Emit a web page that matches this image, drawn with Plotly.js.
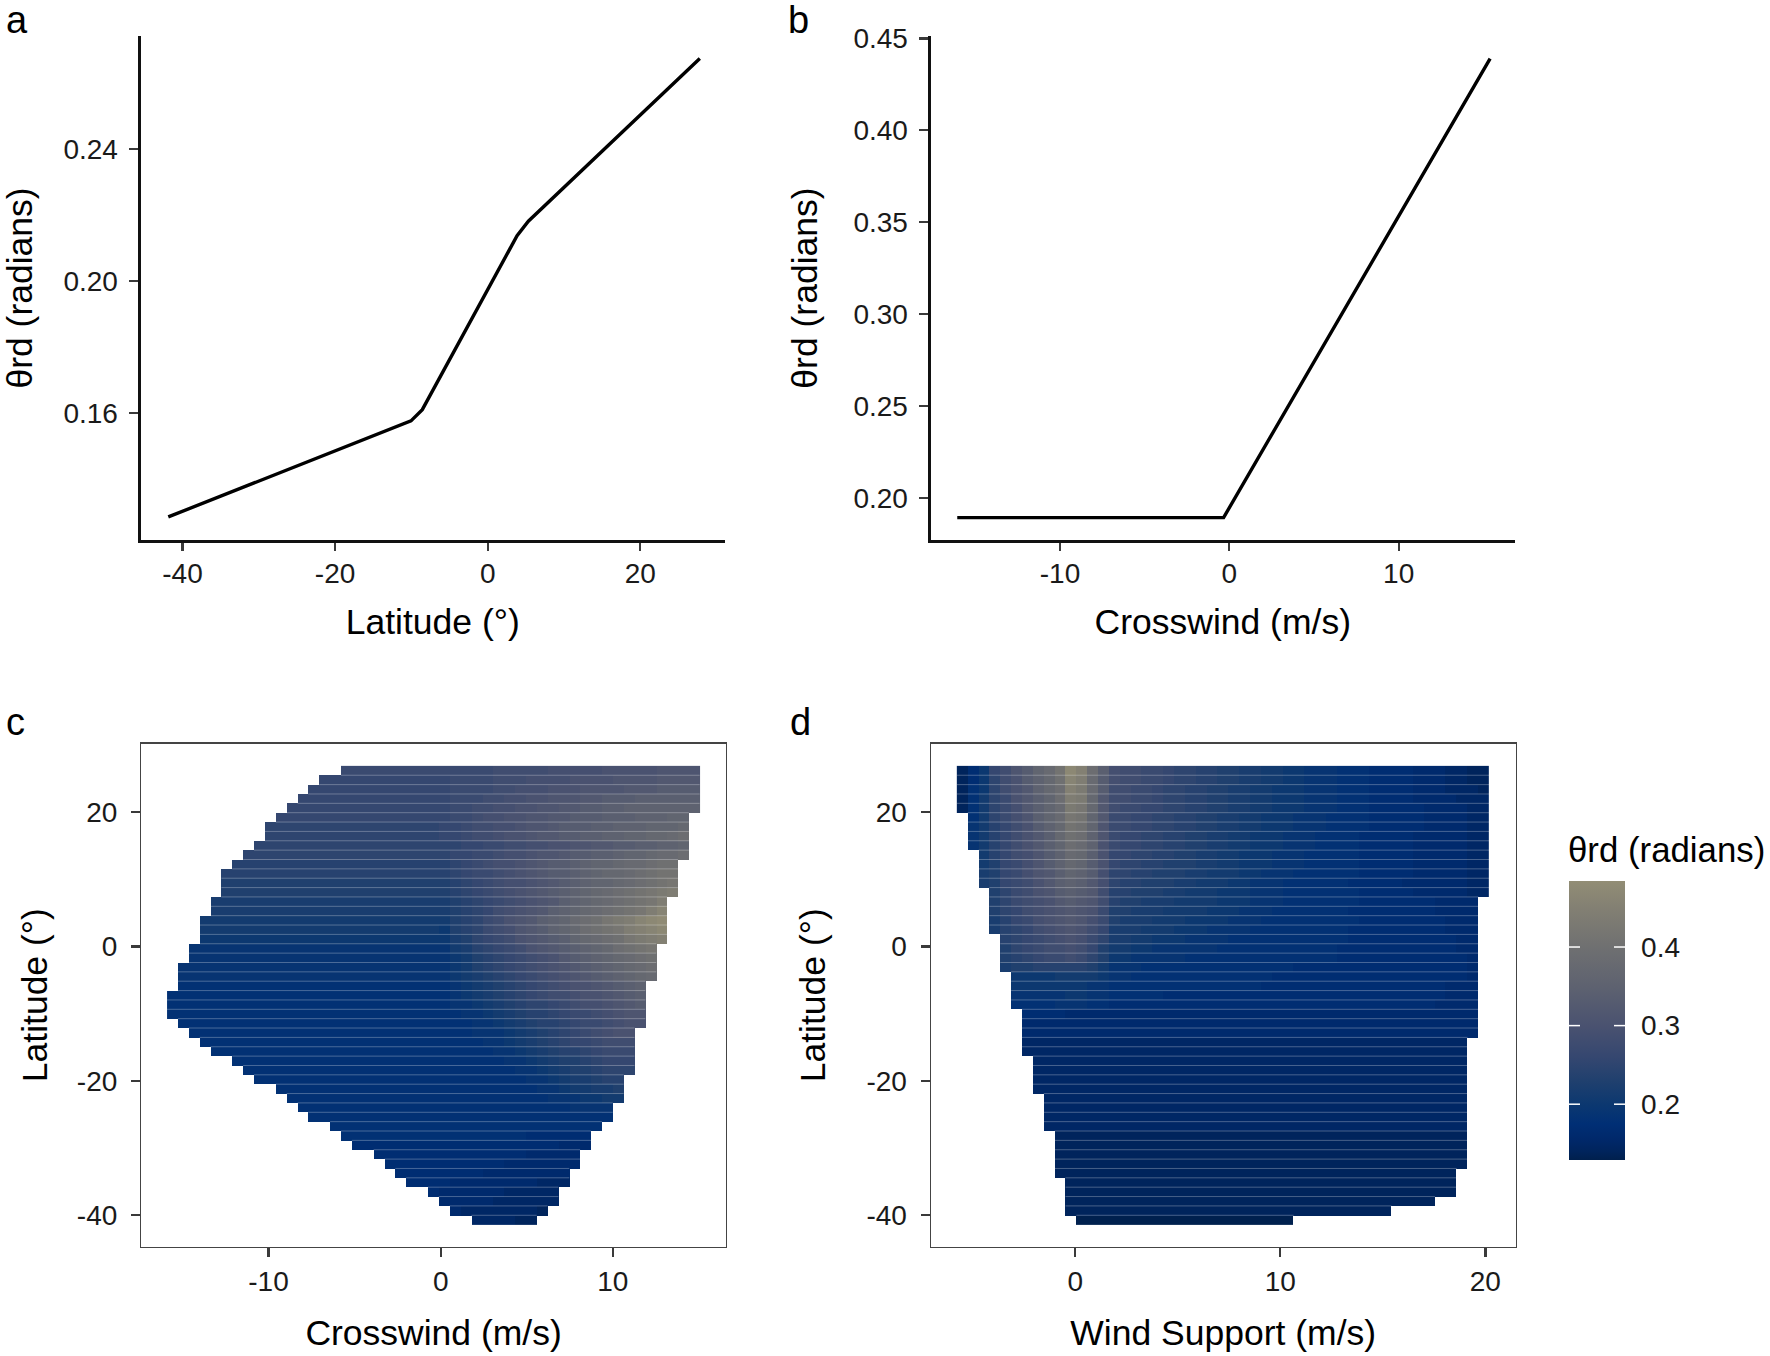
<!DOCTYPE html>
<html><head><meta charset="utf-8">
<script src="https://cdn.plot.ly/plotly-3.0.1.min.js"></script>
<style>html,body{margin:0;padding:0;background:#fff}#p{width:1770px;height:1356px}</style></head>
<body><div id="p"></div>
<script>
// Line panels
const latLineX=[-41.86,-10.05,-8.57,3.85,5.33,27.8];
const latLineY=[0.1285,0.1576,0.161,0.2137,0.2181,0.2674];
const crossLineX=[-16.07,-0.34,15.4];
const crossLineY=[0.1892,0.1892,0.439];

// Heatmap grid (49 x 49 cells), values read cell by cell.
// One character per cell: base-36 level L means theta = 0.13 + 0.01*L. A short row repeats its last level.
const latTop=26.87, latStep=1.393;
const cX0=-15.89, cDX=0.6313, dX0=-5.78, dDX=0.530;

// Panel c: first col and end col per row
const cStart=[16,14,13,12,11,10,9,9,8,7,6,5,5,5,4,4,3,3,3,2,2,1,1,1,0,0,0,1,2,3,4,6,7,8,10,11,12,13,15,16,17,19,20,21,22,24,25,26,28];
const cEnd=[49,49,49,49,49,48,48,48,48,48,47,47,47,47,46,46,46,46,46,45,45,45,45,44,44,44,44,44,43,43,43,43,43,42,42,42,41,41,40,39,39,38,38,37,37,36,36,35,34];
// level left of zero crosswind, per row
const cLeft="edddddccccbbaa998876666"+"55555555555555555"+"44444444"+"3";
// levels for columns 25..48, per row
const cRight=[
"eeeeefffffggggghhhhhiiii","deeeefffgggghhhhiiiijjjj","deeeeffggghhhiiiijjjkkkk","deeeffgghhiiijjkkkllllll",
"deeffgghhiijjkkllmmmmmmm","deefgghhiijjkkklllmmmnnn","ddeffgghiijkkkllmmmnnnoo","ddeffghhijjkkllmmnnoopqq",
"ccddeeffgghhiijjkkllmmnno","cddeefgghiijkkllmnnoppqq","bcdefgghijkklmnnoppqrrst","bcdeefghijkklmnoopqrsstu",
"abcdefgghijklmnnopqrstuu","abcdefghijklmnopqrstuvwx","9abcdefghijlmnopqrstvwxy","9abcdfghijlmnopqrstvxyzz",
"8abcefhijlmnpqrtuvxyzzzz","7abcefgijkmnoqrstvwxyyyy","79acdefhijklnopqrtuvwxxx","689bcdefhijklmnoqrstuuuu",
"678abcdefghjklmnopqrssss","678abcdefghijklmnopqqqqq","6789abcdefghijklmnopppp","56789abcdefghhijklmnnnnn",
"56789abcdeffghhijklmmmmm","566789abccdefgghijkkkkk","5566789abbcdeefghiiiiiii","55566789abbcdeefghhhhhhh",
"555666789abcdefghhhhhhhh","555566789abcddefffffffff","5555566789abbcdeeeeeeeee","55555566789aabcddddddddd",
"555555566789aabcccccccccc","55555555667899abbbbbbbbb","5555555556678899aaaaaaaa","555555555566677888888888",
"555555555555666666666666","555555555555555566666666","5","555555554444444444444444",
"444444444443333333333333","444444443333333333222222","444444333333322222222222","444433333333222222211111",
"433333333222222111111111","333333222222211111111111","333332222222111111111111","332222222111111111100000",
"322222211111111111111000"];

// Panel d
const dStart=[0,0,0,0,0,1,1,1,1,2,2,2,2,3,3,3,3,3,4,4,4,4,5,5,5,5,6,6,6,6,6,7,7,7,7,8,8,8,8,9,9,9,9,9,10,10,10,10,11];
const dEnd=[49,49,49,49,49,49,49,49,49,49,49,49,49,49,48,48,48,48,48,48,48,48,48,48,48,48,48,48,48,47,47,47,47,47,47,47,47,47,47,47,47,47,47,46,46,46,44,40,31];
// levels for columns 0..48, per row
const dRows=[
"147dfiknpsywql"+"gffeedccbbaa99887766655544443332211",
"147cfhkmorxvpk"+"gffeedccbbaa99887766655544443332211",
"157cfhjmoqwupk"+"ffeedccbbaa998877766655544443332221",
"158cehjlnqvuoj"+"ffeedccbbaa998877766655544443333222",
"158cegjlnputoj"+"feeddccbbaa998877766655544444333322",
"258cegilnptsnj"+"eeddccbbaa9988777666555544444333322",
"268bdfhkmosrni"+"eeddccbbaa9988777666555544444333322",
"268bdfhjlorqmi"+"eddccbbaa99887776665555444443333322",
"368bdfhjlnqpmh"+"eddccbbaa99887776665555444443333322",
"378bdfgikmpolh"+"ddccbbaa998877766655555444443333322",
"378adegikmonkh"+"dccbbaaa998877766655555444443333322",
"379adegijlnmkg"+"ccbbaaa9988877666555555444443333322",
"379adefhjlmljg"+"cbbaaa99888776665555554444433333322",
"479acefhiklkjf"+"bbaaa998887776665555555444443333322",
"479acefghjkjif"+"baa9998888777666555555544444443333",
"479acdfghijihe"+"aa999888877766655555554444444433333",
"4689bdeghijige"+"a999888777766655555555544444444333",
"4689bcdfghihfd"+"99988877766665555555554444444443333",
"5789bcdefghgec"+"99887776666555555555554444444444333",
"5789acdeffgfda"+"88776666665555555555544444444444333",
"5788abcdeefeca"+"77666665555555555555544444444444433",
"67789aabbbbba8"+"66655555555555555444444444444444433",
"66777777788887"+"66555555555555544444444444444444433",
"66667777777766"+"55555555555555444444444444444443333",
"55566666667766"+"55555444444444444444444444444443333",
"55555555566655"+"44444444444444444444444444444433333",
"44444444443333","3","3","2","2","2","2","2","2","2","2","2","2",
"1","1","1","1","1","1","1","1","1","0"];

const colorStops=[[0.129,"#00204d"],[0.14,"#00245c"],[0.155,"#00286a"],[0.175,"#002f75"],[0.20,"#0c3870"],[0.23,"#20406e"],[0.26,"#354770"],[0.30,"#4a5270"],[0.35,"#5e6270"],[0.40,"#6f7071"],[0.45,"#838073"],[0.484,"#928d75"]];
const cbMin=0.129,cbMax=0.484;

const W=1770,H=1356,nCells=49;
const cRows=cRight.map((s,r)=>cLeft[r].repeat(25)+s);
function grid(rows,start,end){
  return rows.map((s,r)=>{const o=[];for(let i=0;i<nCells;i++){
    const ch=s[Math.min(i,s.length-1)];
    o.push(i>=start[r]&&i<end[r]?0.13+0.01*parseInt(ch,36):null);}return o;});
}
function edges(x0,dx,n){const a=[];for(let i=0;i<=n;i++)a.push(x0+dx*i);return a;}
const yEdges=edges(latTop,-latStep,nCells);
function seps(x0,dx,start,end,xa,ya){
  const xs=[],ys=[];
  for(let r=0;r<nCells-1;r++){const a=Math.max(start[r],start[r+1]),b=Math.min(end[r],end[r+1]);
    xs.push(x0+dx*a,x0+dx*b,null);ys.push(yEdges[r+1],yEdges[r+1],null);}
  return {type:'scatter',mode:'lines',x:xs,y:ys,xaxis:xa,yaxis:ya,line:{color:'rgba(255,255,255,0.28)',width:1},hoverinfo:'skip',showlegend:false};
}
const traces=[
 {type:'scatter',mode:'lines',x:latLineX,y:latLineY,xaxis:'x',yaxis:'y',line:{color:'#000',width:3.4},showlegend:false},
 {type:'scatter',mode:'lines',x:crossLineX,y:crossLineY,xaxis:'x2',yaxis:'y2',line:{color:'#000',width:3.4},showlegend:false},
 {type:'heatmap',x:edges(cX0,cDX,nCells),y:yEdges,z:grid(cRows,cStart,cEnd),xaxis:'x3',yaxis:'y3',coloraxis:'coloraxis'},
 seps(cX0,cDX,cStart,cEnd,'x3','y3'),
 {type:'heatmap',x:edges(dX0,dDX,nCells),y:yEdges,z:grid(dRows,dStart,dEnd),xaxis:'x4',yaxis:'y4',coloraxis:'coloraxis'},
 seps(dX0,dDX,dStart,dEnd,'x4','y4')
];
const font='"Liberation Sans",Arial,sans-serif';
const tickF={family:font,size:28,color:'#1a1a1a'},titleF={family:font,size:35.5,color:'#000'};
function ax(px0,px1,range,vals,text,title,stand,extra){
  return Object.assign({domain:[px0/W,px1/W],range,tickmode:'array',tickvals:vals,ticktext:text,ticks:'outside',ticklen:9,tickwidth:2.3,tickcolor:'#3a3a3a',
    tickfont:tickF,title:{text:title,font:titleF,standoff:stand},showgrid:false,zeroline:false,showline:true,automargin:false},extra);
}
function ay(px0,px1,range,vals,text,title,stand,extra){
  return Object.assign({domain:[1-px1/H,1-px0/H],range,tickmode:'array',tickvals:vals,ticktext:text,ticks:'outside',ticklen:9,tickwidth:2.3,tickcolor:'#3a3a3a',
    tickfont:tickF,title:{text:title,font:titleF,standoff:stand},showgrid:false,zeroline:false,showline:true,automargin:false},extra);
}
const open={linecolor:'#111',linewidth:3};
const box={linecolor:'#444',linewidth:1.5,mirror:true};
function label(t,px,py){return {text:t,xref:'paper',yref:'paper',x:px/W,y:1-py/H,xanchor:'left',yanchor:'middle',showarrow:false,font:{family:font,size:38,color:'#000'}};}
const cbTicks=[0.2,0.3,0.4];
const cbL=1569,cbR=1625,cbT=881,cbB=1160;
const cY0=743.5,cY1=1246.9;
const layout={width:W,height:H,margin:{l:0,r:0,t:0,b:0},paper_bgcolor:'#fff',plot_bgcolor:'#fff',showlegend:false,
 xaxis:ax(140.5,725,[-45.5,31.1],[-40,-20,0,20],['-40','-20','0','20'],'Latitude (°)',22,Object.assign({anchor:'y',ticklabelstandoff:-2,ticklen:8},open)),
 yaxis:ay(36,540,[0.1215,0.2742],[0.16,0.20,0.24],['0.16','0.20','0.24'],'θrd (radians)',26,Object.assign({anchor:'x',ticklabelstandoff:5},open)),
 xaxis2:ax(930.5,1515,[-17.65,16.87],[-10,0,10],['-10','0','10'],'Crosswind (m/s)',22,Object.assign({anchor:'y2',ticklabelstandoff:-2,ticklen:8},open)),
 yaxis2:ay(36,540,[0.177,0.4513],[0.20,0.25,0.30,0.35,0.40,0.45],['0.20','0.25','0.30','0.35','0.40','0.45'],'θrd (radians)',25,Object.assign({anchor:'x2',ticklabelstandoff:5},open)),
 xaxis3:ax(141.4,725.8,[-17.38,16.56],[-10,0,10],['-10','0','10'],'Crosswind (m/s)',24,Object.assign({anchor:'y3'},box)),
 yaxis3:ay(cY0,cY1,[-44.7,30.2],[-40,-20,0,20],['-40','-20','0','20'],'Latitude (°)',18,Object.assign({anchor:'x3',ticklabelstandoff:8},box)),
 xaxis4:ax(931,1515.5,[-7.04,21.47],[0,10,20],['0','10','20'],'Wind Support (m/s)',24,Object.assign({anchor:'y4'},box)),
 yaxis4:ay(cY0,cY1,[-44.7,30.2],[-40,-20,0,20],['-40','-20','0','20'],'Latitude (°)',30,Object.assign({anchor:'x4',ticklabelstandoff:8},box)),
 coloraxis:{cmin:cbMin,cmax:cbMax,colorscale:colorStops.map(s=>[(s[0]-cbMin)/(cbMax-cbMin),s[1]]),
  colorbar:{x:cbL/W,xanchor:'left',y:1-cbT/H,yanchor:'top',thicknessmode:'pixels',thickness:cbR-cbL,lenmode:'pixels',len:cbB-cbT,xpad:0,ypad:0,outlinewidth:0,borderwidth:0,
   tickmode:'array',tickvals:cbTicks,ticktext:cbTicks.map(String),ticks:'outside',ticklen:11,tickwidth:1,tickcolor:'rgba(0,0,0,0)',tickfont:tickF}},
 annotations:[label('a',4,20),label('b',786,20),label('c',4,722),label('d',788,722),
  {text:'θrd (radians)',xref:'paper',yref:'paper',x:(cbL-3)/W,y:1-849/H,xanchor:'left',yanchor:'middle',showarrow:false,font:{family:font,size:34.8,color:'#000'}}],
 shapes:cbTicks.flatMap(v=>{const py=cbB-(v-cbMin)/(cbMax-cbMin)*(cbB-cbT);
   const seg=(a,b)=>({type:'line',xref:'paper',yref:'paper',x0:a/W,x1:b/W,y0:1-py/H,y1:1-py/H,line:{color:'#fff',width:1.5},layer:'above'});
   return [seg(cbL,cbL+11),seg(cbR-11,cbR)];})
};
Plotly.newPlot('p',traces,layout,{displayModeBar:false,staticPlot:true}).then(gd=>{
  // keep the colour bar's white tick marks on top of the bar: the bar lives in the last svg layer
  const svgs=gd.querySelectorAll('svg.main-svg'), sl=gd.querySelector('.layer-above .shapelayer');
  if(svgs.length&&sl) svgs[svgs.length-1].appendChild(sl);
});
</script></body></html>
